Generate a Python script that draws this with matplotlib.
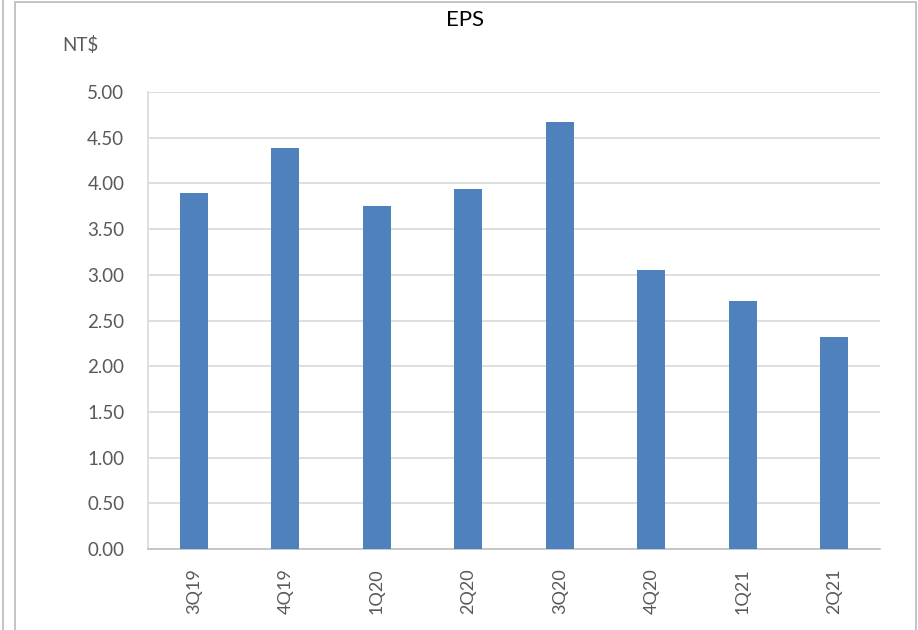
import matplotlib.pyplot as plt
from matplotlib.patches import Rectangle
from matplotlib.lines import Line2D

quarters = ['3Q19', '4Q19', '1Q20', '2Q20', '3Q20', '4Q20', '1Q21', '2Q21']
eps = [3.90, 4.39, 3.75, 3.94, 4.67, 3.05, 2.71, 2.32]
yticks = [0.0, 0.5, 1.0, 1.5, 2.0, 2.5, 3.0, 3.5, 4.0, 4.5, 5.0]

plt.rcParams['font.family'] = ['Lato', 'DejaVu Sans']

W, H = 918, 630
fig = plt.figure(figsize=(W / 100, H / 100), dpi=100)

# outer frame of the chart object + stray line on the left
fig.add_artist(Rectangle((15 / W, -0.01), 901 / W, 1 - 2 / H + 0.01, transform=fig.transFigure,
                         fill=False, edgecolor='#BFBFBF', linewidth=1.3))
fig.add_artist(Line2D([3 / W, 3 / W], [0, 1], transform=fig.transFigure,
                      color='#BFBFBF', linewidth=1.3))

ax = fig.add_axes([148 / W, 1 - 549 / H, (880 - 148) / W, (549 - 92) / H])
x = range(len(quarters))
ax.bar(x, eps, width=0.31, color='#4F81BD', zorder=3)

ax.set_xlim(-0.5, len(quarters) - 0.5)
ax.set_ylim(0, 5)
ax.set_yticks(yticks)
ax.set_yticklabels([f'{v:.2f}' for v in yticks], fontsize=13.5, color='#595959')
ax.set_xticks(list(x))
ax.set_xticklabels(quarters, rotation=90, fontsize=13, color='#595959')
ax.tick_params(axis='both', length=0)
ax.tick_params(axis='y', pad=17)
ax.tick_params(axis='x', pad=14)
ax.grid(axis='y', color='#D9D9D9', linewidth=1.2, zorder=0)
for s in ['top', 'right']:
    ax.spines[s].set_visible(False)
ax.spines['left'].set_color('#D9D9D9')
ax.spines['bottom'].set_color('#BFBFBF')
ax.spines['left'].set_linewidth(1.2)
ax.spines['bottom'].set_linewidth(1.2)

fig.text(465 / W, 1 - 20 / H, 'EPS', ha='center', va='center', fontsize=16, color='#000000')
fig.text(62 / W, 1 - 45 / H, 'NT$', ha='left', va='center', fontsize=13.5, color='#595959')

fig.savefig('out.png', dpi=100)
